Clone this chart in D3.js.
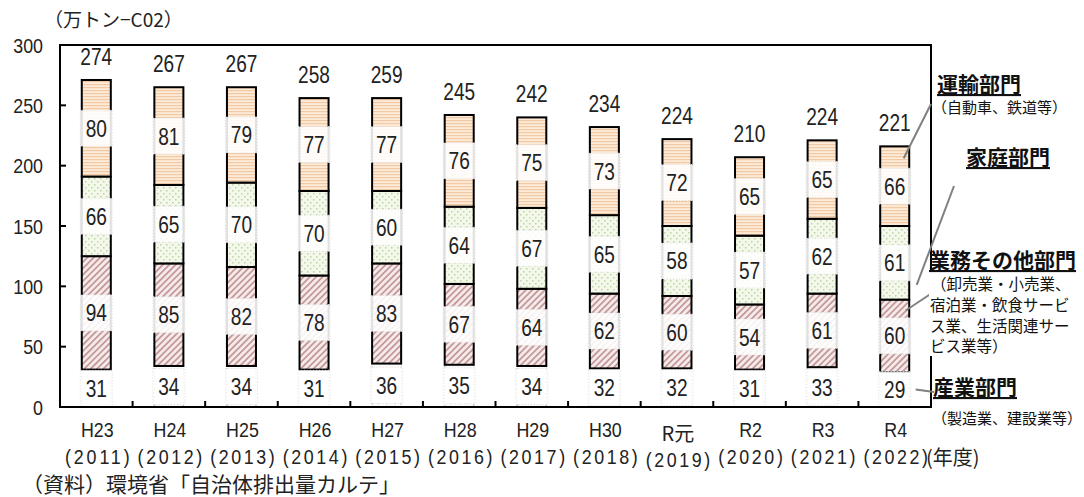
<!DOCTYPE html>
<html>
<head>
<meta charset="utf-8">
<script src="https://cdn.jsdelivr.net/npm/d3@7"></script>
<style>
  body { margin: 0; background: #fff; }
  svg { display: block; }
  .num { font-family: "Liberation Sans", Arial, sans-serif; }
  .jp { font-family: "Noto Sans CJK JP", sans-serif; }
</style>
</head>
<body>
<svg id="svg" width="1084" height="497"></svg>
<script>
// data
const categories = ["H23", "H24", "H25", "H26", "H27", "H28", "H29", "H30", "R元", "R2", "R3", "R4"];
const years = ["2011", "2012", "2013", "2014", "2015", "2016", "2017", "2018", "2019", "2020", "2021", "2022"];
const industry = [31, 34, 34, 31, 36, 35, 34, 32, 32, 31, 33, 29];
const business = [94, 85, 82, 78, 83, 67, 64, 62, 60, 54, 61, 60];
const household = [66, 65, 70, 70, 60, 64, 67, 65, 58, 57, 62, 61];
const transport = [80, 81, 79, 77, 77, 76, 75, 73, 72, 65, 65, 66];
const totals = [274, 267, 267, 258, 259, 245, 242, 234, 224, 210, 224, 221];
const yTicks = [0, 50, 100, 150, 200, 250, 300];

const svg = d3.select("#svg");
const plotL = 60, plotR = 931, plotT = 45, plotB = 407;

const x = d3.scaleBand().domain(categories).range([plotL, plotR]).paddingInner(0.6).paddingOuter(0.3);
const y = d3.scaleLinear().domain([0, 300]).range([plotB, plotT]);
const step = x.step();

// narrow digits: Liberation Sans squeezed horizontally
const narrow = (g, xx, yy, t, size, anchor, sx) => g.append("text").attr("class", "num")
  .attr("transform", `translate(${xx},${yy}) scale(${sx || 0.85},1)`)
  .attr("text-anchor", anchor || "middle").attr("font-size", size).attr("fill", "#222").text(t);

// patterns
const defs = svg.append("defs");
let p = defs.append("pattern").attr("id", "pTrans").attr("patternUnits", "userSpaceOnUse").attr("width", 6).attr("height", 3);
p.append("rect").attr("width", 6).attr("height", 3).attr("fill", "#fdebd8");
p.append("rect").attr("width", 6).attr("height", 1.2).attr("fill", "#f1c9a4");

p = defs.append("pattern").attr("id", "pHouse").attr("patternUnits", "userSpaceOnUse").attr("width", 6).attr("height", 6);
p.append("rect").attr("width", 6).attr("height", 6).attr("fill", "#f3f8ea");
p.append("rect").attr("x", 1).attr("y", 1).attr("width", 1.5).attr("height", 1.5).attr("fill", "#bcd4a4");
p.append("rect").attr("x", 4).attr("y", 4).attr("width", 1.5).attr("height", 1.5).attr("fill", "#bcd4a4");

p = defs.append("pattern").attr("id", "pBiz").attr("patternUnits", "userSpaceOnUse").attr("width", 4.5).attr("height", 4.5)
  .attr("patternTransform", "rotate(45)");
p.append("rect").attr("width", 4.5).attr("height", 4.5).attr("fill", "#f6eaea");
p.append("rect").attr("width", 1.8).attr("height", 4.5).attr("fill", "#c49a9a");

p = defs.append("pattern").attr("id", "pInd").attr("patternUnits", "userSpaceOnUse").attr("width", 8).attr("height", 8);
p.append("rect").attr("width", 8).attr("height", 8).attr("fill", "#fbfbfb");
p.append("rect").attr("x", 2).attr("y", 3).attr("width", 1.2).attr("height", 1.2).attr("fill", "#d0d0d0");

// stacked data
const keys = ["industry", "business", "household", "transport"];
const fills = { industry: "url(#pInd)", business: "url(#pBiz)", household: "url(#pHouse)", transport: "url(#pTrans)" };
const rows = categories.map((c, i) => ({
  cat: c, industry: industry[i], business: business[i], household: household[i], transport: transport[i]
}));
const series = d3.stack().keys(keys)(rows);

// segments
const layers = svg.selectAll(".layer").data(series).enter().append("g").attr("class", "layer");
layers.selectAll("rect").data(s => s.map(d => ({ key: s.key, d: d }))).enter()
  .append("rect")
  .attr("x", o => x(o.d.data.cat))
  .attr("width", x.bandwidth())
  .attr("y", o => y(o.d[1]))
  .attr("height", o => y(o.d[0]) - y(o.d[1]))
  .attr("fill", o => fills[o.key])
  .attr("stroke", o => o.key == "industry" ? "#bbb" : "#000")
  .attr("stroke-dasharray", o => o.key == "industry" ? "2,2" : null)
  .attr("stroke-width", o => o.key == "industry" ? 1.5 : 2);

// value label boxes
const boxH = 36;
const labels = svg.append("g");
series.forEach(s => {
  s.forEach(d => {
    const cx = x(d.data.cat) + x.bandwidth() / 2;
    const cy = (y(d[0]) + y(d[1])) / 2;
    labels.append("rect")
      .attr("x", cx - x.bandwidth() / 2 - 1.5).attr("width", x.bandwidth() + 3)
      .attr("y", cy - boxH / 2).attr("height", boxH)
      .attr("fill", "#fff").attr("fill-opacity", 0.88)
      .attr("stroke", "#ddd").attr("stroke-dasharray", "1,2").attr("stroke-width", 1);
    narrow(labels, cx, cy + 8.5, d.data[s.key], 23, "middle", 0.83);
  });
});

// totals
const tg = svg.append("g");
categories.forEach((c, i) => {
  const top = y(industry[i] + business[i] + household[i] + transport[i]);
  narrow(tg, x(c) + x.bandwidth() / 2, top - 15, totals[i], 23, "middle", 0.83);
});

// frame
const frame = svg.append("g").attr("stroke", "#000").attr("stroke-width", 2).attr("fill", "none");
frame.append("path").attr("d", `M${plotL},${plotB}V${plotT}H${plotR}V${plotB}`);
frame.append("line").attr("x1", plotL - 1).attr("x2", plotR + 1).attr("y1", plotB).attr("y2", plotB);

// y ticks inside
svg.append("g").selectAll("line").data(yTicks).enter().append("line")
  .attr("x1", plotL).attr("x2", plotL + 6).attr("y1", d => y(d)).attr("y2", d => y(d))
  .attr("stroke", "#000").attr("stroke-width", 2);
const yg = svg.append("g");
yTicks.forEach(d => narrow(yg, 43, y(d) + 7.5, d, 21, "end"));

// x ticks inside at band boundaries
svg.append("g").selectAll("line").data(d3.range(1, categories.length)).enter().append("line")
  .attr("x1", k => plotL + k * step).attr("x2", k => plotL + k * step)
  .attr("y1", plotB).attr("y2", plotB - 6)
  .attr("stroke", "#000").attr("stroke-width", 2);

// x labels
const xl = svg.append("g");
categories.forEach((c, i) => {
  const cx = x(c) + x.bandwidth() / 2 + 1;
  const shift = c == "R元" ? 3 : 0;
  if (c == "R元") {
    xl.append("text").attr("class", "jp").attr("x", cx).attr("y", 438 + shift)
      .attr("text-anchor", "middle").attr("font-size", 20).attr("fill", "#222").text(c);
  } else {
    narrow(xl, cx, 437, c, 21, "middle");
  }
  narrow(xl, cx, 464 + shift, "(" + years[i] + ")", 21, "middle")
    .attr("textLength", 76).attr("lengthAdjust", "spacing");
});
svg.append("text").attr("class", "jp").attr("x", 926).attr("y", 465)
  .attr("font-size", 20).attr("fill", "#222").text("(年度)");

// axis title and source
svg.append("text").attr("class", "jp").attr("x", 44).attr("y", 27)
  .attr("font-size", 19).attr("fill", "#222").text("（万トン−C02）");
svg.append("text").attr("class", "jp").attr("x", 22).attr("y", 492)
  .attr("font-size", 21).attr("fill", "#222").text("（資料）環境省「自治体排出量カルテ」");

// leader lines from the R4 bar
const last = categories[categories.length - 1];
const lx = x(last) + x.bandwidth() / 2;
const lead = svg.append("g").attr("stroke", "#808080").attr("stroke-width", 2);
const segY = (k, f) => { const s = series.find(t => t.key == k)[categories.length - 1]; return y(s[0] + (s[1] - s[0]) * f); };
lead.append("line").attr("x1", lx + 9).attr("y1", segY("transport", 0.85)).attr("x2", plotR).attr("y2", 104);
lead.append("line").attr("x1", lx + 22).attr("y1", segY("household", 0.2)).attr("x2", 954).attr("y2", 186);
lead.append("line").attr("x1", lx + 11).attr("y1", segY("business", 0.85)).attr("x2", 932).attr("y2", 293);
lead.append("line").attr("x1", lx + 21).attr("y1", segY("industry", 0.5)).attr("x2", 934).attr("y2", 392);

// sector notes
const note = svg.append("g").attr("class", "jp").attr("fill", "#111");
note.append("rect").attr("x", 929).attr("y", 272).attr("width", 155).attr("height", 84).attr("fill", "#fff");
const bold = (t, xx, yy) => note.append("text").attr("x", xx).attr("y", yy).attr("font-size", 21)
  .attr("font-weight", "bold").attr("text-decoration", "underline").text(t);
const small = (t, xx, yy, fs) => note.append("text").attr("x", xx).attr("y", yy).attr("font-size", fs || 15.5).text(t);
bold("運輸部門", 937, 92);
small("（自動車、鉄道等）", 932, 113, 15);
bold("家庭部門", 966, 165);
bold("業務その他部門", 929, 268);
small("（卸売業・小売業、", 931, 290);
small("宿泊業・飲食サービ", 930, 311);
small("ス業、生活関連サー", 930, 332);
small("ビス業等）", 930, 352);
bold("産業部門", 933, 395);
small("（製造業、建設業等）", 932, 424, 15);
</script>
</body>
</html>
